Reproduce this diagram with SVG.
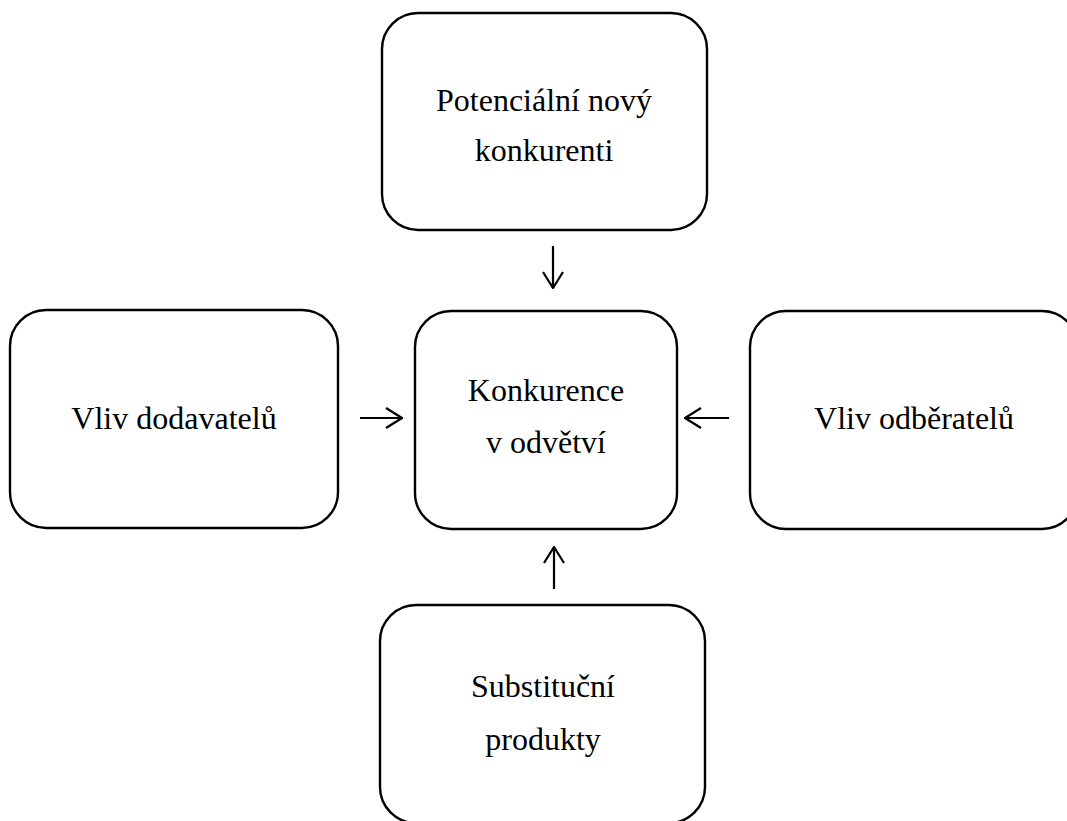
<svg xmlns="http://www.w3.org/2000/svg" width="1067" height="821" viewBox="0 0 1067 821">
  <style>
    .box { fill: #ffffff; stroke: #000000; stroke-width: 2.4; }
    .label { font-family: "Liberation Serif", "Times New Roman", serif; font-size: 32px; fill: #000000; text-anchor: middle; }
    .arrow { fill: none; stroke: #000000; stroke-width: 2.2; marker-end: url(#head); }
  </style>
  <defs>
    <!-- open V arrowhead -->
    <marker id="head" markerUnits="userSpaceOnUse" viewBox="0 0 18 22" refX="17" refY="11" markerWidth="18" markerHeight="22" orient="auto">
      <polyline points="1,1 17,11 1,21" fill="none" stroke="#000000" stroke-width="2.2"/>
    </marker>
  </defs>
  <rect width="1067" height="821" fill="#ffffff"/>

  <g id="node-new-entrants">
    <rect class="box" x="382" y="13" width="325" height="217" rx="36" ry="36"/>
    <text class="label" x="544" y="111">Potenciální nový</text>
    <text class="label" x="544" y="161">konkurenti</text>
  </g>

  <g id="node-suppliers">
    <rect class="box" x="10" y="310" width="328" height="218" rx="36" ry="36"/>
    <text class="label" x="174" y="429">Vliv dodavatelů</text>
  </g>

  <g id="node-rivalry">
    <rect class="box" x="415" y="311" width="262" height="218" rx="36" ry="36"/>
    <text class="label" x="546" y="401">Konkurence</text>
    <text class="label" x="546" y="453">v odvětví</text>
  </g>

  <g id="node-buyers">
    <rect class="box" x="750" y="311" width="328" height="218" rx="36" ry="36"/>
    <text class="label" x="914" y="429">Vliv odběratelů</text>
  </g>

  <g id="node-substitutes">
    <rect class="box" x="380" y="605" width="325" height="218" rx="36" ry="36"/>
    <text class="label" x="543" y="697">Substituční</text>
    <text class="label" x="543" y="750">produkty</text>
  </g>

  <g id="connectors">
    <line class="arrow" x1="553" y1="246" x2="553" y2="288"/>
    <line class="arrow" x1="360" y1="418" x2="402" y2="418"/>
    <line class="arrow" x1="729" y1="418" x2="685" y2="418"/>
    <line class="arrow" x1="554" y1="589" x2="554" y2="547"/>
  </g>
</svg>
